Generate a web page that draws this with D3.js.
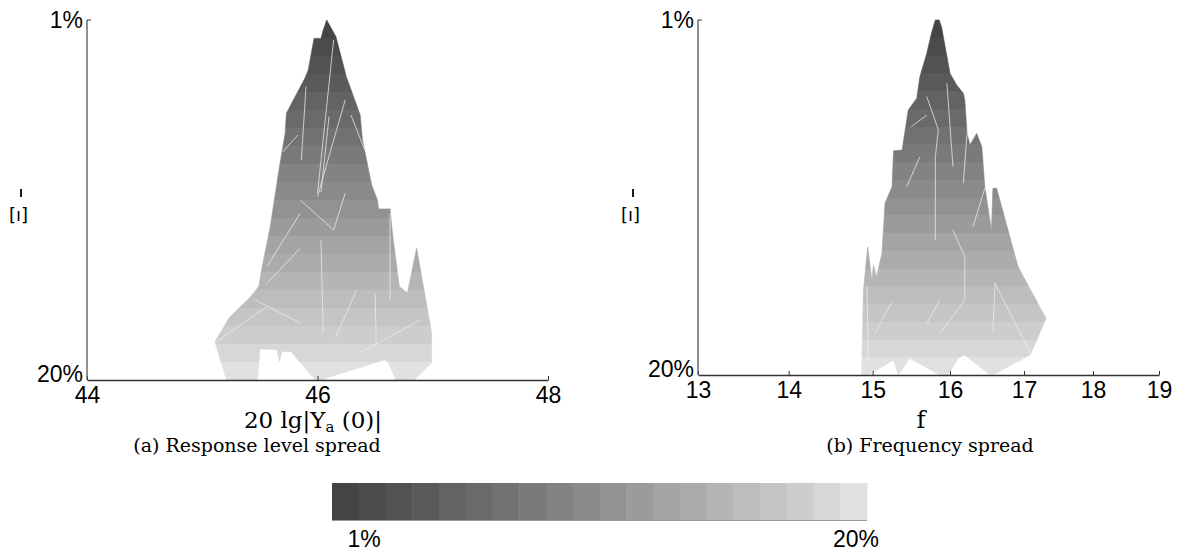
<!DOCTYPE html>
<html>
<head>
<meta charset="utf-8">
<script src="https://cdn.jsdelivr.net/npm/d3@7"></script>
<style>
  body { margin: 0; background: #fff; }
  svg text { fill: #000; }
  .num { font-family: "Liberation Sans", Arial, sans-serif; font-size: 23px; }
  .cap { font-family: "DejaVu Serif", serif; }
</style>
</head>
<body>
<div id="chart"></div>
<script>
// levels shown on the vertical axis (percent)
const levelTicks = [1, 20];
// grey colormap, one swatch per level 1..20
const levelColors = ['#444444', '#4b4b4b', '#525252', '#5a5a5a', '#636363', '#6a6a6a', '#727272', '#7a7a7a',
  '#838383', '#8a8a8a', '#929292', '#9b9b9b', '#a4a4a4', '#ababab', '#b5b5b5', '#bdbdbd', '#c5c5c5', '#cdcdcd',
  '#d7d7d7', '#e1e1e1'];

// (a) response level spread: outline of the surface, [20lg|Ya(0)|, level %]
const levelTickValues = [44, 46, 48];
const levelOutline = [
  [45.21, 20], [45.11, 17.98], [45.24, 16.66], [45.41, 15.67], [45.49, 15.07], [45.52, 14.02], [45.59, 11.91],
  [45.67, 8.74], [45.72, 6.96], [45.73, 5.92], [45.89, 4.08], [45.92, 3.64], [45.97, 1.97], [46.03, 1.97],
  [46.05, 1.53], [46.08, 1], [46.16, 1.88], [46.25, 3.99], [46.37, 6.01], [46.39, 7.33], [46.47, 9.71],
  [46.52, 10.5], [46.53, 10.97], [46.63, 10.97], [46.65, 12.24], [46.71, 15.07], [46.78, 15.41], [46.86, 13.05],
  [46.94, 15.78], [46.99, 17.52], [46.99, 19.1], [46.84, 20], [46.68, 20], [46.61, 19.03], [46.58, 18.94],
  [46.39, 19.3], [46.19, 19.68], [46.08, 19.89], [46.05, 20], [45.98, 20], [45.77, 18.5], [45.69, 18.5],
  [45.67, 19.03], [45.65, 18.41], [45.5, 18.36], [45.48, 20]
];
// visible mesh edges on surface (a)
const levelEdges = [
  [[46.14, 2.06], [46.0, 10.15]], [[46.24, 5.22], [46.0, 10.32]], [[46.14, 12.08], [46.24, 10.15]],
  [[45.85, 10.5], [46.14, 12.08]], [[45.56, 14.02], [45.85, 11.2]], [[45.56, 14.9], [45.85, 13.05]],
  [[45.7, 7.95], [45.83, 7.07]], [[46.03, 12.61], [46.05, 17.53]], [[46.34, 15.25], [46.16, 17.71]],
  [[45.46, 15.78], [45.85, 17.0]], [[46.29, 6.01], [46.41, 7.86]], [[45.9, 4.52], [45.86, 8.39]],
  [[46.63, 11.19], [46.63, 15.78]], [[45.11, 18.05], [45.56, 16.13]], [[46.37, 18.57], [46.89, 16.83]],
  [[46.51, 18.24], [46.5, 15.41]], [[46.1, 6.1], [46.03, 10.1]]
];

// (b) frequency spread: outline of the surface, [f, level %]
const freqTickValues = [13, 14, 15, 16, 17, 18, 19];
const freqOutline = [
  [14.87, 20], [14.87, 19.56], [14.89, 15.45], [14.94, 13.14], [14.99, 14.92], [15.01, 14.12], [15.05, 14.74],
  [15.12, 13.47], [15.16, 10.8], [15.25, 9.92], [15.27, 8.0], [15.38, 7.96], [15.42, 6.89], [15.46, 5.82],
  [15.57, 5.19], [15.61, 4.04], [15.7, 2.78], [15.76, 1.71], [15.81, 1], [15.86, 1], [15.89, 1.36],
  [16.0, 3.85], [16.09, 4.48], [16.18, 4.92], [16.2, 5.28], [16.23, 7.07], [16.27, 7.69], [16.36, 7.07],
  [16.43, 7.78], [16.47, 9.92], [16.56, 12.24], [16.58, 10.01], [16.63, 10.01], [16.92, 14.21], [17.32, 16.97],
  [17.09, 18.93], [16.58, 20], [16.54, 20], [16.2, 18.93], [16.11, 19.11], [15.98, 20], [15.87, 20],
  [15.48, 19.11], [15.33, 20], [15.27, 19.2], [14.95, 20]
];
// visible mesh edges on surface (b)
const freqEdges = [
  [[15.7, 5.11], [15.85, 6.89]], [[15.85, 6.89], [15.81, 8.32]], [[15.81, 8.32], [15.81, 12.78]],
  [[16.04, 12.24], [16.2, 13.67]], [[16.2, 13.67], [16.2, 15.99]], [[15.87, 17.77], [16.2, 15.99]],
  [[15.7, 17.24], [15.87, 15.99]], [[15.5, 6.71], [15.7, 6.09]], [[16.47, 10.01], [16.31, 12.07]],
  [[16.61, 15.1], [16.58, 17.6]], [[16.61, 15.1], [17.09, 18.84]], [[15.25, 16.08], [15.03, 17.77]],
  [[14.93, 15.28], [14.95, 19.2]], [[16.23, 7.07], [16.18, 9.74]], [[15.96, 4.39], [16.04, 8.85]],
  [[15.61, 8.32], [15.44, 9.92]]
];

const W = 1187, H = 552;
const svg = d3.select('#chart').append('svg')
  .attr('width', W)
  .attr('height', H);

const defs = svg.append('defs');

function drawPanel(opts) {
  const { id, xScale, yScale, outline, edges, ticks, yLabelX, topTick } = opts;
  const g = svg.append('g');

  // stepped grey bands along the level axis
  const grad = defs.append('linearGradient')
    .attr('id', id)
    .attr('gradientUnits', 'userSpaceOnUse')
    .attr('x1', 0).attr('x2', 0)
    .attr('y1', yScale(1)).attr('y2', yScale(20));
  levelColors.forEach((c, i) => {
    grad.append('stop').attr('offset', i / 20).attr('stop-color', c);
    grad.append('stop').attr('offset', (i + 1) / 20).attr('stop-color', c);
  });

  const line = d3.line()
    .x(d => xScale(d[0]))
    .y(d => yScale(d[1]))
    .curve(d3.curveLinearClosed);

  g.append('path')
    .datum(outline)
    .attr('d', line)
    .attr('fill', 'url(#' + id + ')')
    .attr('stroke', 'url(#' + id + ')')
    .attr('stroke-width', 0.6);

  g.selectAll('.edge')
    .data(edges)
    .enter()
    .append('line')
    .attr('class', 'edge')
    .attr('x1', d => xScale(d[0][0]))
    .attr('y1', d => yScale(d[0][1]))
    .attr('x2', d => xScale(d[1][0]))
    .attr('y2', d => yScale(d[1][1]))
    .attr('stroke', '#eeeeee')
    .attr('stroke-opacity', 0.75)
    .attr('stroke-width', 1);

  const x0 = xScale.range()[0];
  const yBottom = yScale(20);

  // bottom axis, ticks pointing inwards
  const xAxis = d3.axisBottom(xScale)
    .tickValues(ticks)
    .tickFormat(d3.format('d'))
    .tickSizeInner(-4)
    .tickSizeOuter(0)
    .tickPadding(7);
  const ax = g.append('g')
    .attr('transform', 'translate(0,' + yBottom + ')')
    .call(xAxis);
  ax.select('.domain').attr('stroke', '#333').attr('stroke-width', 1.3);
  ax.selectAll('line').attr('stroke', '#333');
  ax.selectAll('text').attr('class', 'num').attr('fill', '#000');

  // left axis: line plus two labels
  g.append('line')
    .attr('x1', x0).attr('x2', x0)
    .attr('y1', yScale(1)).attr('y2', yBottom)
    .attr('stroke', '#555').attr('stroke-width', 1.3);
  g.append('line')
    .attr('x1', x0).attr('x2', x0 + topTick)
    .attr('y1', yScale(1)).attr('y2', yScale(1))
    .attr('stroke', '#333');

  g.selectAll('.ylab')
    .data(levelTicks)
    .enter()
    .append('text')
    .attr('class', 'num')
    .attr('x', x0 - 4)
    .attr('y', d => yScale(d) - (d === 20 ? 6 : 0))
    .attr('dy', '0.35em')
    .attr('text-anchor', 'end')
    .text(d => d + '%');

  // rotated unit label left of the axis
  g.append('line')
    .attr('x1', yLabelX + 12).attr('x2', yLabelX + 12)
    .attr('y1', 189).attr('y2', 197)
    .attr('stroke', '#000').attr('stroke-width', 1.8);
  g.append('text')
    .attr('x', yLabelX)
    .attr('y', 221)
    .attr('font-family', 'DejaVu Sans, sans-serif')
    .attr('font-size', 18)
    .text('[ı]');

  return g;
}

// (a)
const xLevel = d3.scaleLinear().domain([44, 48]).range([87, 548]);
const yLevel = d3.scaleLinear().domain([1, 20]).range([20, 380]);
drawPanel({ id: 'gradA', xScale: xLevel, yScale: yLevel, outline: levelOutline, edges: levelEdges,
  ticks: levelTickValues, yLabelX: 9, topTick: 4 });

// (b) the axis is seen in perspective, so tick spacing shrinks to the right
const xFreq = d3.scaleLinear()
  .domain(freqTickValues)
  .range([698, 788.7, 872.7, 950, 1024, 1093, 1159]);
const yFreq = d3.scaleLinear().domain([1, 20]).range([20, 375]);
drawPanel({ id: 'gradB', xScale: xFreq, yScale: yFreq, outline: freqOutline, edges: freqEdges,
  ticks: freqTickValues, yLabelX: 621, topTick: 4 });

// axis labels and captions
const lab = svg.append('text')
  .attr('class', 'cap')
  .attr('x', 313)
  .attr('y', 428)
  .attr('text-anchor', 'middle')
  .attr('font-size', 23);
lab.append('tspan').text('20 lg|Y');
lab.append('tspan').attr('font-size', 15).attr('dy', 4).text('a');
lab.append('tspan').attr('dy', -4).text(' (0)|');

svg.append('text')
  .attr('class', 'cap')
  .attr('x', 921)
  .attr('y', 428)
  .attr('text-anchor', 'middle')
  .attr('font-size', 24)
  .text('f');

svg.append('text')
  .attr('class', 'cap')
  .attr('x', 257)
  .attr('y', 452)
  .attr('text-anchor', 'middle')
  .attr('font-size', 19)
  .text('(a) Response level spread');

svg.append('text')
  .attr('class', 'cap')
  .attr('x', 930)
  .attr('y', 452)
  .attr('text-anchor', 'middle')
  .attr('font-size', 19)
  .text('(b) Frequency spread');

// colour bar
const levels = d3.range(1, 21);
const xBar = d3.scaleBand().domain(levels).range([332, 867]).padding(0);
svg.append('g')
  .selectAll('rect')
  .data(levels)
  .enter()
  .append('rect')
  .attr('x', d => xBar(d))
  .attr('y', 483)
  .attr('width', xBar.bandwidth() + 0.5)
  .attr('height', 37)
  .attr('fill', d => levelColors[d - 1]);
svg.append('line')
  .attr('x1', 332).attr('x2', 867)
  .attr('y1', 520.5).attr('y2', 520.5)
  .attr('stroke', '#999');

svg.selectAll('.barlab')
  .data(levelTicks)
  .enter()
  .append('text')
  .attr('class', 'num')
  .attr('x', d => d === 1 ? 364 : 856)
  .attr('y', 547)
  .attr('text-anchor', 'middle')
  .text(d => d + '%');
</script>
</body>
</html>
